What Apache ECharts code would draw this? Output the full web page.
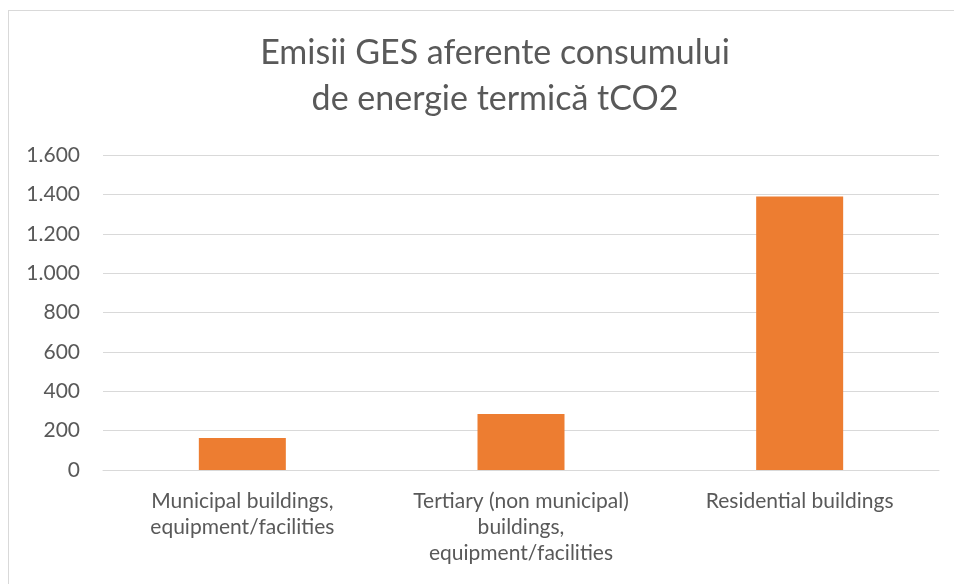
<!DOCTYPE html>
<html>
<head>
    <meta charset="utf-8">
    <title>Emisii GES</title>
    <script src="https://cdn.jsdelivr.net/npm/echarts@6/dist/echarts.min.js"></script>
    <style>
        html, body { margin: 0; padding: 0; background: #fff; overflow: hidden; }
        #frame { position: absolute; left: 8px; top: 10px; width: 1000px; height: 700px; border: 1px solid #d9d9d9; box-sizing: border-box; }
        #chart { position: absolute; left: 0; top: 0; width: 954px; height: 584px; }
    </style>
</head>
<body>
<div id="frame"></div>
<div id="chart"></div>
<script>
    var titleText = 'Emisii GES aferente consumului\nde energie termică tCO2';
    var categories = [
        'Municipal buildings,\nequipment/facilities',
        'Tertiary (non municipal)\nbuildings,\nequipment/facilities',
        'Residential buildings'
    ];
    var emissions = [162, 284, 1389];
    var yTicks = [0, 200, 400, 600, 800, 1000, 1200, 1400, 1600];

    var textColor = '#595959';

    // 1.600 style labels
    function fmt(v) {
        return String(v).replace(/\B(?=(\d{3})+(?!\d))/g, '.');
    }

    var $echart = echarts.init(document.getElementById('chart'));
    $echart.setOption({
        animation: false,
        title: {
            text: titleText,
            left: 490,
            top: 25,
            textAlign: 'center',
            textStyle: {
                fontFamily: 'Lato',
                fontWeight: 'normal',
                fontSize: 34,
                lineHeight: 46,
                color: textColor
            }
        },
        grid: {
            left: 103,
            right: 15,
            top: 155,
            bottom: 114,
            containLabel: false
        },
        xAxis: {
            type: 'category',
            data: categories,
            axisLine: { lineStyle: { color: '#d9d9d9', width: 1 } },
            axisTick: { show: false },
            axisLabel: {
                interval: 0,
                margin: 18,
                fontFamily: 'Lato',
                fontSize: 21,
                lineHeight: 26,
                color: textColor
            }
        },
        yAxis: {
            type: 'value',
            min: yTicks[0],
            max: yTicks[yTicks.length - 1],
            interval: yTicks[1] - yTicks[0],
            axisLine: { show: false },
            axisTick: { show: false },
            splitLine: { lineStyle: { color: '#d9d9d9', width: 1 } },
            axisLabel: {
                margin: 23,
                fontFamily: 'Lato',
                fontSize: 21,
                color: textColor,
                formatter: fmt
            }
        },
        series: [{
            type: 'bar',
            data: emissions,
            barWidth: 87,
            itemStyle: { color: '#ED7D31' }
        }]
    });
</script>
</body>
</html>
